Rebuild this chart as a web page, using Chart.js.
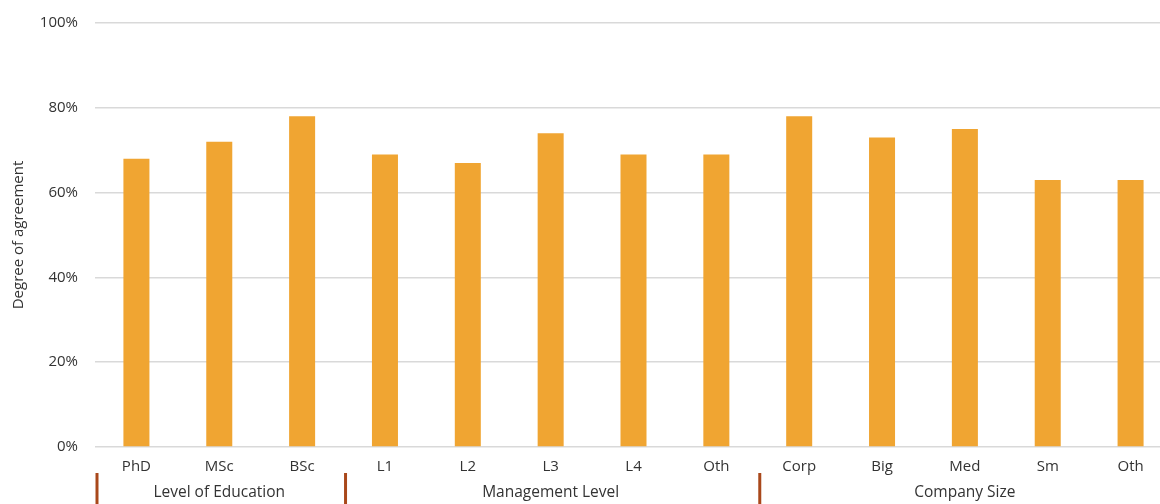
<!DOCTYPE html>
<html>
<head>
<meta charset="utf-8">
<script src="https://cdn.jsdelivr.net/npm/chart.js@4"></script>
<style>
  html, body { margin: 0; padding: 0; overflow: hidden; background: #fff; }
  #wrap { width: 1172px; height: 504px; }
</style>
</head>
<body>
<div id="wrap"><canvas id="barCanvas"></canvas></div>
<script>
// ------DATA--------
const categories = ["PhD", "MSc", "BSc", "L1", "L2", "L3", "L4", "Oth", "Corp", "Big", "Med", "Sm", "Oth"];
const agreement = [68, 72, 78, 69, 67, 74, 69, 69, 78, 73, 75, 63, 63];
const groups = ["Level of Education", "Management Level", "Company Size"];
const groupSizes = [3, 5, 5];
const yTicks = [0, 20, 40, 60, 80, 100];

const textColor = "#333333";
const fontFamily = "'Open Sans', 'Noto Sans', sans-serif";

// group labels + brown separators under the category axis
const groupAxis = {
    id: "groupAxis",
    afterDraw(chart) {
        const ctx = chart.ctx;
        const x = chart.scales.x;
        const step = x.getPixelForValue(1) - x.getPixelForValue(0);
        let start = 0;
        ctx.save();
        ctx.font = "15.5px " + fontFamily;
        ctx.fillStyle = textColor;
        ctx.textAlign = "center";
        ctx.textBaseline = "middle";
        ctx.strokeStyle = "#A9481B";
        ctx.lineWidth = 3;
        groups.forEach((g, i) => {
            const end = start + groupSizes[i] - 1;
            const left = x.getPixelForValue(start) - step / 2;
            const center = (x.getPixelForValue(start) + x.getPixelForValue(end)) / 2;
            ctx.fillText(g, center, 493);
            ctx.beginPath();
            ctx.moveTo(left + 2, 473);
            ctx.lineTo(left + 2, 504);
            ctx.stroke();
            start = end + 1;
        });
        ctx.restore();
    }
};

const barCanvas = document.getElementById("barCanvas");

const barChart = new Chart(barCanvas, {
    type: "bar",
    data: {
        labels: categories,
        datasets: [
            {
                label: "Degree of agreement",
                data: agreement,
                backgroundColor: "#F0A532",
                borderWidth: 0,
                barPercentage: 1,
                categoryPercentage: 0.314
            }
        ]
    },
    options: {
        responsive: true,
        maintainAspectRatio: false,
        animation: false,
        layout: { padding: { top: 23, left: 0, right: 0, bottom: 25 } },
        plugins: {
            legend: { display: false },
            tooltip: { enabled: false }
        },
        scales: {
            x: {
                grid: { display: false },
                border: { display: false },
                ticks: {
                    color: textColor,
                    font: { family: fontFamily, size: 15 },
                    padding: 3,
                    maxRotation: 0,
                    autoSkip: false
                }
            },
            y: {
                min: 0,
                max: 100,
                afterBuildTicks(scale) {
                    scale.ticks = yTicks.map(v => ({ value: v }));
                },
                afterFit(scale) {
                    scale.width = 95;
                    scale.paddingTop = 0;
                    scale.paddingBottom = 0;
                },
                grid: { color: "#d9d9d9", lineWidth: 1.5, drawTicks: false },
                border: { display: false },
                ticks: {
                    color: textColor,
                    font: { family: fontFamily, size: 15 },
                    padding: 17,
                    callback: v => v + "%"
                },
                title: {
                    display: true,
                    text: "Degree of agreement",
                    color: textColor,
                    font: { family: fontFamily, size: 15 },
                    padding: { top: 10, bottom: 0 }
                }
            }
        }
    },
    plugins: [groupAxis]
});
</script>
</body>
</html>
